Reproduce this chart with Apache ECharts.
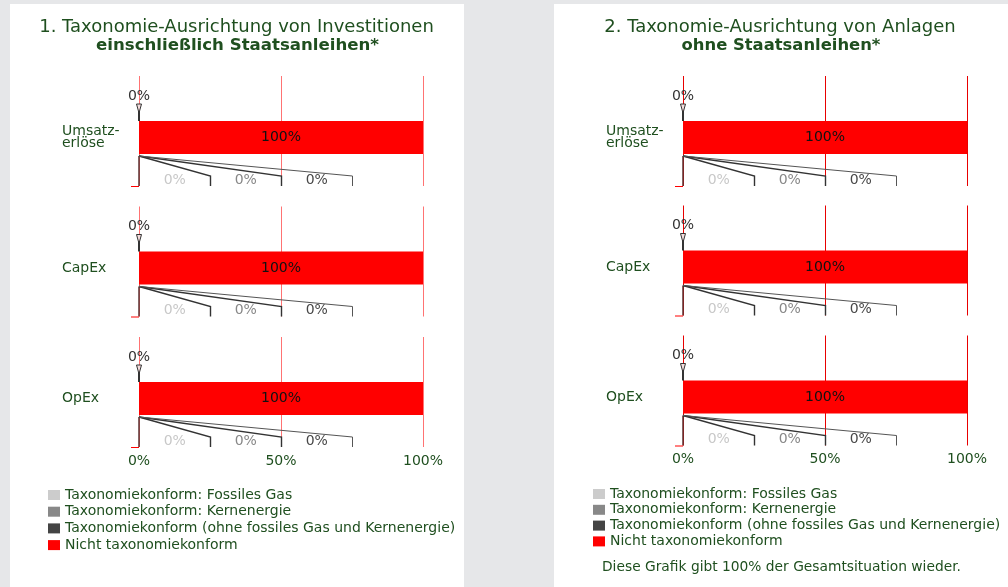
<!DOCTYPE html>
<html><head><meta charset="utf-8">
<script src="https://cdn.jsdelivr.net/npm/echarts@6/dist/echarts.min.js"></script>
<style>html,body{margin:0;padding:0;background:#e6e7e9}#c{width:1008px;height:587px}</style>
</head><body><div id="c"></div><script>
// ---- data ----
const categories = ['Umsatz-\nerlöse', 'CapEx', 'OpEx'];
const seriesNames = [
  'Taxonomiekonform: Fossiles Gas',
  'Taxonomiekonform: Kernenergie',
  'Taxonomiekonform (ohne fossiles Gas und Kernenergie)',
  'Nicht taxonomiekonform'
];
const panelTitles = ['1. Taxonomie-Ausrichtung von Investitionen', '2. Taxonomie-Ausrichtung von Anlagen'];
const panelSubtitles = ['einschließlich Staatsanleihen*', 'ohne Staatsanleihen*'];
// panel 1
const p1FossilGas = [0, 0, 0];
const p1Nuclear = [0, 0, 0];
const p1OtherAligned = [0, 0, 0];
const p1NotAligned = [100, 100, 100];
const p1AlignedTotal = [0, 0, 0];
// panel 2
const p2FossilGas = [0, 0, 0];
const p2Nuclear = [0, 0, 0];
const p2OtherAligned = [0, 0, 0];
const p2NotAligned = [100, 100, 100];
const p2AlignedTotal = [0, 0, 0];
// axis ticks (percent)
const xTicks = [0, 50, 100];
const axisMin = 0, axisMax = 100, axisInterval = 50;
const footnote = 'Diese Grafik gibt 100% der Gesamtsituation wieder.';

// ---- styles / layout ----
const FONT = 'DejaVu Sans';
const GREEN = '#1f4f1f';
const seriesColors = ['#cccccc', '#888888', '#444444', '#ff0000'];
const labelColors = ['#c8c8c8', '#888888', '#484848'];
const calloutSlots = [25, 50, 75]; // where callouts drop, in axis units
const barW = 33;
const belowBar = 32;   // vertical extent of callout area below bar

const panels = [
  { data: [p1FossilGas, p1Nuclear, p1OtherAligned, p1NotAligned], total: p1AlignedTotal,
    bgX: 10, bgW: 454, axisLeft: 139, titleX: 236.5, rowTops: [76, 206.5, 337],
    titleSize: 18, subSize: 16.6,
    legendX: 43, legendY: 483, legendGap: 2.7, gridColor: '#ff7373', xLabelMargin: -6 },
  { data: [p2FossilGas, p2Nuclear, p2OtherAligned, p2NotAligned], total: p2AlignedTotal,
    bgX: 554, bgW: 454, axisLeft: 683, titleX: 780, rowTops: [76, 205.5, 335.5],
    titleSize: 18, subSize: 16.4,
    legendX: 588, legendY: 482, legendGap: 1.8, gridColor: '#e80000', xLabelMargin: -6 }
];

function bandInfo(api) {
  const base = api.coord([0, 0]);
  const cy = base[1];
  const band = api.size([0, 1])[1];
  const barTop = cy - barW / 2, barBottom = cy + barW / 2;
  return {
    x0: base[0], cy,
    gridTop: cy - band / 2, gridBottom: barBottom + belowBar,
    barTop, barBottom
  };
}

function makeGridRender(color) {
  return function (params, api) {
    const b = bandInfo(api);
    return {
      type: 'group',
      children: xTicks.map(t => {
        const x = Math.round(api.coord([t, 0])[0]) + 0.5;
        return { type: 'line', shape: { x1: x, y1: b.gridTop, x2: x, y2: b.gridBottom }, style: { stroke: color, lineWidth: 1 } };
      })
    };
  };
}

function makeCalloutRender() {
  return function (params, api) {
    const vals = [api.value(0), api.value(1), api.value(2)];
    const total = api.value(3);
    const b = bandInfo(api);
    const children = [];
    // top total label with pointer
    const tx = api.coord([total, 0])[0];
    children.push({ type: 'text', style: { x: tx, y: b.barTop - 25, text: total + '%', align: 'center', verticalAlign: 'middle', fill: '#333', font: '14px "' + FONT + '"' } });
    children.push({ type: 'polygon', shape: { points: [[tx - 2.5, b.barTop - 17], [tx + 2.5, b.barTop - 17], [tx, b.barTop - 8]] }, style: { fill: '#f4dede', stroke: '#333', lineWidth: 1 } });
    children.push({ type: 'line', shape: { x1: tx, y1: b.barTop - 10, x2: tx, y2: b.barTop }, style: { stroke: '#333', lineWidth: 2 } });
    // base vertical and tick
    children.push({ type: 'line', shape: { x1: b.x0, y1: b.barBottom + 2, x2: b.x0, y2: b.gridBottom }, style: { stroke: '#5a3030', lineWidth: 1.5 } });
    children.push({ type: 'line', shape: { x1: b.x0 - 8, y1: b.gridBottom + 0.5, x2: b.x0, y2: b.gridBottom + 0.5 }, style: { stroke: '#ff0000', lineWidth: 1 } });
    // callouts
    let cum = 0;
    for (let i = 0; i < 3; i++) {
      const sx = api.coord([cum + vals[i] / 2, 0])[0];
      cum += vals[i];
      const kx = Math.round(api.coord([calloutSlots[i], 0])[0]) + 0.5;
      const px = api.coord([calloutSlots[i] - 25, 0])[0];
      const ky = b.barBottom + 22;
      children.push({ type: 'polyline', shape: { points: [[sx, b.barBottom + 2], [kx, ky], [kx, b.gridBottom]] },
        style: { stroke: i === 2 ? '#555' : '#333', lineWidth: i === 2 ? 1 : 1.4, fill: null } });
      children.push({ type: 'text', style: { x: (px + kx) / 2, y: b.barBottom + 26, text: vals[i] + '%', align: 'center', verticalAlign: 'middle', fill: labelColors[i], font: '14px "' + FONT + '"' } });
    }
    return { type: 'group', children };
  };
}

const grid = [], xAxis = [], yAxis = [], series = [], legend = [], graphic = [];
panels.forEach((p, pi) => {
  graphic.push({ type: 'rect', shape: { x: p.bgX, y: 4, width: p.bgW, height: 583 }, style: { fill: '#ffffff' }, z: -10 });
  graphic.push({ type: 'text', style: { x: p.titleX, y: 27, text: panelTitles[pi], align: 'center', verticalAlign: 'middle', fill: GREEN, font: p.titleSize + 'px "' + FONT + '"' } });
  graphic.push({ type: 'text', style: { x: p.titleX + 1, y: 46, text: panelSubtitles[pi], align: 'center', verticalAlign: 'middle', fill: GREEN, font: 'bold ' + p.subSize + 'px "' + FONT + '"' } });
  legend.push({
    data: seriesNames, orient: 'vertical', left: p.legendX, top: p.legendY,
    itemWidth: 12, itemHeight: 10, itemGap: p.legendGap, icon: 'rect', selectedMode: false,
    textStyle: { color: GREEN, fontSize: 14, fontFamily: FONT, lineHeight: 14 }
  });
  categories.forEach((cat, r) => {
    const g = grid.length;
    // band centred on the bar: 45px above bar centre area, symmetric
    grid.push({ left: p.axisLeft, width: 284, top: p.rowTops[r], height: 123 });
    xAxis.push({
      type: 'value', gridIndex: g, min: axisMin, max: axisMax, interval: axisInterval,
      axisLine: { show: false }, axisTick: { show: false }, splitLine: { show: false },
      axisLabel: { show: r === categories.length - 1, formatter: '{value}%', color: GREEN, fontSize: 14, fontFamily: FONT, margin: p.xLabelMargin }
    });
    yAxis.push({
      type: 'category', gridIndex: g, data: [cat],
      axisLine: { show: false }, axisTick: { show: false }, splitLine: { show: false },
      axisLabel: { color: GREEN, fontSize: 14, fontFamily: FONT, align: 'left', margin: 77, lineHeight: 12 }
    });
    series.push({
      type: 'custom', xAxisIndex: g, yAxisIndex: g, clip: false, silent: true, z: 1,
      renderItem: makeGridRender(p.gridColor),
      data: [[0, 0]], encode: { x: 0, y: 1 }
    });
    for (let i = 0; i < 4; i++) {
      series.push({
        name: seriesNames[i], type: 'bar', xAxisIndex: g, yAxisIndex: g, stack: 'tax' + g,
        barWidth: barW, data: [p.data[i][r]], silent: true, z: 2,
        itemStyle: { color: seriesColors[i] },
        label: i === 3 ? { show: true, position: 'inside', formatter: '{c}%', color: '#111', fontSize: 14, fontFamily: FONT } : { show: false }
      });
    }
    series.push({
      type: 'custom', xAxisIndex: g, yAxisIndex: g, clip: false, silent: true, z: 5,
      renderItem: makeCalloutRender(),
      data: [[p.data[0][r], p.data[1][r], p.data[2][r], p.total[r], 0]],
      encode: { x: 3, y: 4 }
    });
  });
});
graphic.push({ type: 'text', style: { x: 602, y: 567, text: footnote, verticalAlign: 'middle', fill: GREEN, font: '13.8px "' + FONT + '"' } });

const chart = echarts.init(document.getElementById('c'), null, { renderer: 'canvas' });
chart.setOption({
  backgroundColor: '#e6e7e9', animation: false,
  textStyle: { fontFamily: FONT },
  grid, xAxis, yAxis, series, legend, graphic
});
</script></body></html>
